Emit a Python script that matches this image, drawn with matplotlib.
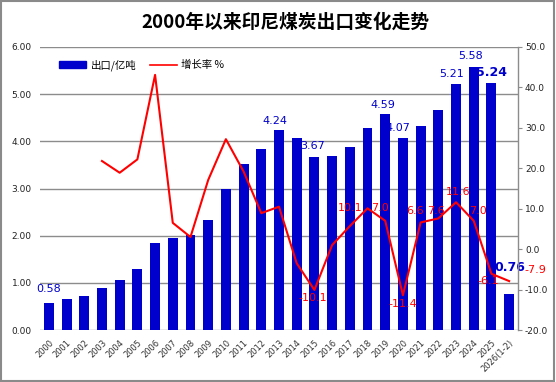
import matplotlib
matplotlib.use("Agg")
import matplotlib.pyplot as plt
from matplotlib.patches import Patch, Rectangle
from matplotlib.lines import Line2D
import numpy as np

plt.rcParams['font.family'] = ['DejaVu Sans', 'Noto Sans CJK SC']

years = [str(y) for y in range(2000, 2026)] + ["2026(1-2)"]
exports = [0.58, 0.65, 0.72, 0.89, 1.06, 1.29, 1.84, 1.95, 2.01, 2.33, 2.99,
           3.53, 3.84, 4.24, 4.07, 3.67, 3.69, 3.88, 4.28, 4.59, 4.07, 4.32,
           4.66, 5.21, 5.58, 5.24, 0.76]
growth = [None, None, None, 21.8, 18.9, 22.2, 43.1, 6.5, 3.0, 17.1, 27.2,
          19.2, 8.9, 10.5, -3.5, -10.1, 1.0, 5.7, 10.1, 7.0, -11.4, 6.6,
          7.6, 11.6, 7.0, -6.1, -7.9]

bar_labels = {0: "0.58", 13: "4.24", 15: "3.67", 19: "4.59", 20: "4.07",
              23: "5.21", 24: "5.58", 25: "5.24", 26: "0.76"}
growth_labels = {15: "-10.1", 18: "10.1", 19: "7.0", 20: "-11.4", 21: "6.6",
                 22: "7.6", 23: "11.6", 24: "7.0", 25: "-6.1", 26: "-7.9"}

BLUE = "#0000CC"
RED = "#FF0000"
GRID = "#8c8c8c"

fig = plt.figure(figsize=(5.56, 3.82), dpi=100)
ax = fig.add_axes([40/556, 1-330/382, (518-40)/556, (330-47)/382])
ax2 = ax.twinx()

x = np.arange(len(years))
ax.bar(x, exports, width=0.56, color=BLUE, zorder=2)
ax.set_xlim(-0.5, len(years)-0.5)
ax.set_ylim(0, 6)
ax.set_yticks(np.arange(0, 6.01, 1))
ax.set_yticklabels([f"{v:.2f}" for v in np.arange(0, 6.01, 1)])
ax.grid(axis='y', color=GRID, linewidth=1, zorder=0)
ax.set_axisbelow(True)
for s in ['left', 'top', 'right', 'bottom']:
    ax.spines[s].set_visible(False)
ax.tick_params(axis='y', length=0, labelsize=6.5, pad=6, labelcolor="#222222")
ax.tick_params(axis='x', length=0, labelsize=6, pad=6, labelcolor="#333333")
ax.set_xticks(x)
ax.set_xticklabels(years, rotation=45, ha='right', va='top', rotation_mode='anchor')

gx = [i for i, g in enumerate(growth) if g is not None]
gy = [growth[i] for i in gx]
ax2.plot(gx, gy, color=RED, linewidth=1.5, zorder=3)
ax2.set_ylim(-20, 50)
ax2.set_yticks(np.arange(-20, 50.1, 10))
ax2.set_yticklabels([f"{v:.1f}" for v in np.arange(-20, 50.1, 10)])
for s in ['left', 'top', 'bottom']:
    ax2.spines[s].set_visible(False)
ax2.spines['right'].set_color(GRID)
ax2.spines['right'].set_linewidth(1)
ax2.tick_params(axis='y', length=3, color=GRID, labelsize=6.5, pad=2, labelcolor="#222222")

# bar labels
bar_off = {0: (0, 14), 13: (-4, 9), 15: (-2, 11), 19: (-2, 9), 20: (-5, 10),
           23: (-4, 10), 24: (-3, 11), 25: (0, 10), 26: (1, 27)}
for i, t in bar_labels.items():
    bold = i in (25, 26)
    ax.annotate(t, (x[i], exports[i]), xytext=bar_off[i], textcoords='offset pixels',
                ha='center', va='center', color=BLUE, fontsize=9 if bold else 8,
                fontweight='bold' if bold else 'normal', zorder=5)

g_off = {15: (-2, -8), 18: (-17, 0), 19: (-5, 13), 20: (0, -9), 21: (-6, 11),
         22: (-2, 7), 23: (2, 10), 24: (4, 10), 25: (-3, -7), 26: (26, 11)}
for i, t in growth_labels.items():
    ax2.annotate(t, (x[i], growth[i]), xytext=g_off[i], textcoords='offset pixels',
                 ha='center', va='center', color=RED, fontsize=8, zorder=6,
                 annotation_clip=False)

fig.text(285/556, 1-22/382, "2000年以来印尼煤炭出口变化走势", ha='center', va='center',
         fontsize=13.5, fontweight='bold', family=['Noto Sans CJK SC', 'DejaVu Sans'])

handles = [Patch(facecolor=BLUE, edgecolor=BLUE), Line2D([0], [0], color=RED, linewidth=1.2)]
fig.legend(handles, ["出口/亿吨", "增长率 %"], loc='center left',
           bbox_to_anchor=(50/556, 1-65/382), ncol=2, frameon=False,
           handlelength=2.6, handleheight=0.6, columnspacing=1.3,
           handletextpad=0.4, prop={'family': ['Noto Sans CJK SC', 'DejaVu Sans'], 'size': 7.5})

fig.patches.append(Rectangle((0.002, 0.003), 0.995, 0.994, transform=fig.transFigure,
                             fill=False, edgecolor="#8a8a8a", linewidth=1.5))

fig.savefig("out.png", dpi=100)
